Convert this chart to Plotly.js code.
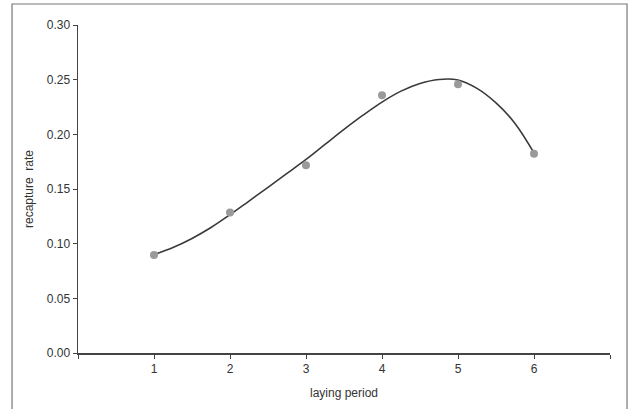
<!DOCTYPE html>
<html><head><meta charset="utf-8">
<script src="https://cdn.plot.ly/plotly-3.0.1.min.js"></script>
<style>html,body{margin:0;padding:0;background:#fff}#chart{width:631px;height:409px}</style>
</head><body><div id="chart"></div>
<script>
// observed points
const periods = [1, 2, 3, 4, 5, 6];
const recapture = [0.0896, 0.1285, 0.1717, 0.2358, 0.2459, 0.1823];
// fitted curve
const curveX = [1, 1.25, 1.5, 1.75, 2, 2.25, 2.5, 2.75, 3, 3.25, 3.5, 3.75, 4, 4.25, 4.5, 4.75, 5, 5.25, 5.5, 5.75, 6];
const curveY = [0.090, 0.0965, 0.1048, 0.1148, 0.1265, 0.139, 0.1515, 0.1642, 0.177, 0.1908, 0.2045, 0.2175, 0.2295, 0.2395, 0.2465, 0.2502, 0.2497, 0.242, 0.2287, 0.210, 0.183];
const xTickVals = [0, 1, 2, 3, 4, 5, 6, 7];
const xTickText = ['', '1', '2', '3', '4', '5', '6', ''];
const yTickVals = [0, 0.05, 0.10, 0.15, 0.20, 0.25, 0.30];
const yTickText = ['0.00', '0.05', '0.10', '0.15', '0.20', '0.25', '0.30'];

const traces = [
  {x: curveX, y: curveY, mode: 'lines', line: {color: '#3a3a3a', width: 1.6, shape: 'spline', smoothing: 1.0}, hoverinfo: 'skip'},
  {x: periods, y: recapture, mode: 'markers', marker: {color: '#9a9a9a', size: 8}}
];
const layout = {
  width: 631, height: 409,
  margin: {l: 78, r: 21, t: 25, b: 56},
  paper_bgcolor: '#fff', plot_bgcolor: '#fff',
  showlegend: false,
  font: {family: 'Liberation Sans, Arial, sans-serif', size: 12, color: '#333'},
  xaxis: {range: [0, 7], tickvals: xTickVals, ticktext: xTickText, ticks: 'outside', ticklen: 4, tickcolor: '#444',
    showgrid: false, zeroline: false, showline: true, linecolor: '#444', linewidth: 1.5,
    title: {text: 'laying period', font: {size: 12, color: '#333'}, standoff: 13}},
  yaxis: {range: [0, 0.30], tickvals: yTickVals, ticktext: yTickText, ticks: 'outside', ticklen: 4, tickcolor: '#444',
    showgrid: false, zeroline: false, showline: true, linecolor: '#444', linewidth: 1.5,
    title: {text: 'recapture&nbsp; rate', font: {size: 12, color: '#333'}, standoff: 10}},
  shapes: [{type: 'rect', xref: 'paper', yref: 'paper', x0: -0.124, x1: 1.032, y0: -0.2, y1: 1.064,
    line: {color: '#777', width: 1.2}}]
};
Plotly.newPlot('chart', traces, layout, {displayModeBar: false, staticPlot: true});
</script></body></html>
